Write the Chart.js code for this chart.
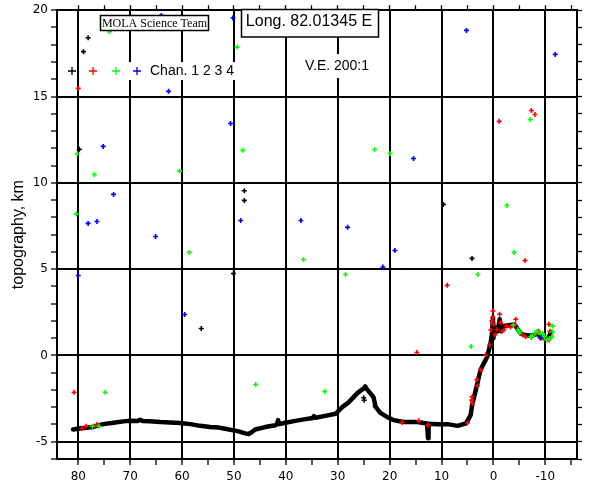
<!DOCTYPE html>
<html>
<head>
<meta charset="utf-8">
<script src="https://cdn.jsdelivr.net/npm/chart.js@4.4.0/dist/chart.umd.min.js"></script>
<style>
  html, body { margin: 0; padding: 0; background: #fff; }
  #wrap { width: 600px; height: 480px; }
</style>
</head>
<body>
<div id="wrap"><canvas id="topo" width="600" height="480"></canvas></div>
<script>
// tick positions (longitude runs right to left)
const lonTicks = [-15, -10, -5, 0, 5, 10, 15, 20, 25, 30, 35, 40, 45, 50, 55, 60, 65, 70, 75, 80];
const topoTicks = [-6, -5, -4, -3, -2, -1, 0, 1, 2, 3, 4, 5, 6, 7, 8, 9, 10, 11, 12, 13, 14, 15, 16, 17, 18, 19, 20];

// main ground track profile, channel 1
const profileLon = [81.0, 79.5, 77.1, 75.2, 73.2, 71.3, 70.0, 68.6, 68.1, 67.6, 66.2, 64.2, 62.3, 60.4, 58.4, 56.5,
  54.6, 53.0, 51.7, 49.1, 48.0, 47.2, 46.6, 45.9, 44.0, 42.0, 41.7, 41.5, 41.3, 40.1, 38.2, 36.2, 34.8, 34.6, 34.3,
  32.4, 30.4, 29.2, 27.9, 26.9, 26.3, 25.0, 24.7, 24.4, 23.7, 23.1, 22.7, 21.8, 20.5, 19.2, 17.3, 14.7, 12.8, 12.6,
  12.5, 10.8, 8.9, 6.9, 5.3, 4.4, 4.05, 3.4, 2.8, 2.5, 1.85, 1.2, 0.56, 0.3, 0.1, 0.0, -0.3, -0.8, -1.2, -1.5, -2.0,
  -3.0, -4.0, -4.6, -5.3, -6.6, -7.5, -8.5, -9.5, -10.5, -11.1];
const profileTopo = [-4.29, -4.22, -4.14, -3.98, -3.90, -3.82, -3.79, -3.80, -3.72, -3.80, -3.82, -3.86, -3.88, -3.92,
  -3.98, -4.08, -4.15, -4.18, -4.25, -4.40, -4.50, -4.56, -4.45, -4.29, -4.15, -4.04, -3.98, -3.75, -3.98, -3.90,
  -3.79, -3.69, -3.62, -3.52, -3.61, -3.50, -3.38, -3.01, -2.72, -2.40, -2.20, -1.91, -1.80, -1.95, -2.20, -2.43,
  -2.98, -3.33, -3.56, -3.75, -3.86, -3.86, -3.94, -4.80, -3.96, -3.98, -3.98, -4.08, -3.94, -3.46, -2.78, -2.01,
  -1.24, -0.85, -0.46, -0.08, 0.70, 1.20, 2.20, 1.00, 1.60, 1.40, 2.10, 1.40, 1.70, 1.75, 1.80, 1.55, 1.25, 1.15,
  1.15, 1.25, 1.05, 0.95, 1.35];

// scattered returns per channel
const chan1Lon = [78.1, 79.0, 79.8, 48.0, 48.0, 50.1, 56.3, 9.65, 4.13, 25.0, 24.9, 22.8];
const chan1Topo = [18.4, 17.6, 11.94, 9.54, 8.98, 4.75, 1.56, 8.75, 5.62, -2.45, -2.6, -2.95];

const chan2Lon = [80.0, -7.3, -8.0, -1.1, -6.1, 8.9, 14.75, 80.8, 79.3, 78.5, 76.8, 76.4, 17.6, 14.4, 12.6, 5.0, 4.2,
  4.05, 4.1, 3.1, 3.2, 2.5, 1.5, 0.7, 0.5, 0.3, 0.1, 0.1, 0.0, -0.3, -0.7, -1.2, -1.4, -1.6, -2.0, -2.5, -3.3, -4.1,
  -4.3, -5.7, -6.2, -7.3, -8.2, -8.7, -9.2, -9.8, -10.7, -10.7, -10.9];
const chan2Topo = [15.47, 14.19, 13.96, 13.56, 5.50, 4.06, 0.17, -2.14, -4.23, -4.10, -4.10, -4.0, -3.88, -3.79, -4.04,
  -3.9, -2.59, -2.78, -2.4, -1.76, -1.4, -0.85, 0.02, 0.6, 1.47, 2.0, 2.57, 2.2, 1.8, 1.2, 1.5, 2.39, 1.9, 1.4, 1.47,
  1.7, 1.64, 1.76, 2.1, 1.18, 1.1, 1.06, 1.27, 1.4, 1.0, 0.95, 1.8, 0.89, 1.4];

const chan3Lon = [74.0, 49.4, 80.2, 48.3, 60.5, 76.9, 80.4, 58.6, 36.6, -2.6, 22.9, 19.9, -4.0, 28.5, 3.0, 4.3, 32.5,
  74.8, 45.8, -7.1, 77.3, 76.0, -3.8, -4.7, -4.9, -5.1, -7.2, -7.5, -8.0, -8.4, -9.0, -9.5, -9.8, -10.3, -10.8, -11.4,
  -11.3, -11.4];
const chan3Topo = [18.75, 17.86, 11.68, 11.88, 10.68, 10.48, 8.2, 5.97, 5.56, 8.69, 11.93, 11.70, 5.97, 4.69, 4.69, 0.52,
  -2.09, -2.14, -1.68, 13.67, -4.1, -4.1, 1.76, 1.5, 1.4, 1.3, 1.1, 1.12, 1.3, 1.4, 1.25, 1.27, 1.1, 0.9, 0.98, 1.37,
  1.1, 1.7];

const chan4Lon = [64.0, 50.2, 62.6, 50.66, 75.2, 73.2, 78.1, 76.4, 48.7, 37.1, 65.1, 80.0, 59.5, 5.2, -11.9, 15.4, 28.1,
  19.0, 21.3, -9.0];
const chan4Topo = [19.7, 19.55, 15.3, 13.44, 12.11, 9.33, 7.65, 7.76, 7.82, 7.82, 6.89, 4.63, 2.37, 18.83, 17.44, 11.41,
  7.42, 6.08, 5.12, 1.02];

const chanColors = ['#000000', '#ff0000', '#00ff00', '#0000ff'];

const pts = (xs, ys) => xs.map((x, i) => ({ x: x, y: ys[i] }));

const crossSet = (label, xs, ys, color, order) => ({
    label: label,
    data: pts(xs, ys),
    showLine: false,
    pointStyle: 'cross',
    pointRadius: 2.5,
    pointBorderWidth: 1.6,
    borderColor: color,
    backgroundColor: color,
    order: order
});

// labels, boxes and legend drawn over the plot
const overlays = {
    id: 'overlays',
    afterDraw(chart) {
        const c = chart.ctx;
        c.save();
        c.textAlign = 'center';
        c.textBaseline = 'middle';

        c.fillStyle = '#fff';
        c.fillRect(100, 15, 109, 15);
        c.strokeStyle = '#000';
        c.lineWidth = 1.5;
        c.strokeRect(100.5, 15.5, 108, 15);
        c.fillStyle = '#000';
        c.font = '12px "Liberation Serif"';
        c.fillText('MOLA Science Team', 154.5, 23.5);

        c.fillStyle = '#fff';
        c.fillRect(241, 9, 138, 28);
        c.strokeRect(241.5, 9.5, 137, 27.5);
        c.fillStyle = '#000';
        c.font = '16px "Liberation Sans"';
        c.fillText('Long. 82.01345 E', 309, 22);

        c.fillStyle = '#fff';
        c.fillRect(303, 54, 68, 24);
        c.fillStyle = '#000';
        c.font = '14px "Liberation Sans"';
        c.fillText('V.E. 200:1', 337, 66);

        // channel legend
        c.fillStyle = '#fff';
        c.fillRect(83, 62, 162, 18);
        const lx = [72, 93, 116, 137];
        c.lineWidth = 1.3;
        lx.forEach((x, i) => {
            c.strokeStyle = chanColors[i];
            c.beginPath();
            c.moveTo(x - 4, 71); c.lineTo(x + 4, 71);
            c.moveTo(x, 67); c.lineTo(x, 75);
            c.stroke();
        });
        c.fillStyle = '#000';
        c.textAlign = 'left';
        c.fillText('Chan. 1 2 3 4', 150, 71);
        c.restore();
    }
};

const tickFont = { family: 'DejaVu Sans', size: 12 };

new Chart(document.getElementById('topo'), {
    type: 'scatter',
    data: {
        datasets: [
            {
                label: 'profile',
                data: pts(profileLon, profileTopo),
                showLine: true,
                borderColor: '#000',
                borderWidth: 4.5,
                borderJoinStyle: 'round',
                borderCapStyle: 'round',
                pointRadius: 0,
                tension: 0,
                order: 5
            },
            crossSet('Chan. 1', chan1Lon, chan1Topo, chanColors[0], 4),
            crossSet('Chan. 2', chan2Lon, chan2Topo, chanColors[1], 3),
            crossSet('Chan. 3', chan3Lon, chan3Topo, chanColors[2], 2),
            crossSet('Chan. 4', chan4Lon, chan4Topo, chanColors[3], 1)
        ]
    },
    options: {
        responsive: false,
        animation: false,
        devicePixelRatio: 1,
        layout: { padding: 0 },
        plugins: { legend: { display: false }, tooltip: { enabled: false } },
        scales: {
            x: {
                type: 'linear', position: 'bottom', reverse: true, min: -16.1, max: 84.1,
                afterBuildTicks: s => { s.ticks = lonTicks.map(v => ({ value: v })); },
                afterFit: s => { s.height = 21; },
                grid: {
                    color: c => (c.tick && c.tick.value % 10 === 0) ? '#000' : 'rgba(0,0,0,0)',
                    lineWidth: 2, tickColor: '#000', tickLength: 6, tickWidth: 1.3
                },
                border: { display: true, color: '#000', width: 2 },
                ticks: {
                    callback: v => v % 10 === 0 ? String(v) : '',
                    font: tickFont, color: '#000', padding: 5, maxRotation: 0, autoSkip: false
                }
            },
            xTop: {
                type: 'linear', position: 'top', reverse: true, min: -16.1, max: 84.1,
                afterBuildTicks: s => { s.ticks = lonTicks.map(v => ({ value: v })); },
                afterFit: s => { s.height = 9; },
                grid: { drawOnChartArea: false, tickColor: '#000', tickLength: 5, tickWidth: 1.3 },
                border: { display: true, color: '#000', width: 2 },
                ticks: { display: false }
            },
            y: {
                type: 'linear', position: 'left', min: -6, max: 20,
                afterBuildTicks: s => { s.ticks = topoTicks.map(v => ({ value: v })); },
                afterFit: s => { s.width = 57; },
                grid: {
                    color: c => (c.tick && c.tick.value % 5 === 0) ? '#000' : 'rgba(0,0,0,0)',
                    lineWidth: 2, tickColor: '#000', tickLength: 6, tickWidth: 1.3
                },
                border: { display: true, color: '#000', width: 2 },
                ticks: {
                    callback: v => v % 5 === 0 ? String(v) : '',
                    font: tickFont, color: '#000', padding: 3, autoSkip: false
                },
                title: {
                    display: true, text: 'topography, km', color: '#000',
                    font: { family: 'Liberation Sans', size: 16 }, padding: { top: 9, bottom: 0 }
                }
            },
            yRight: {
                type: 'linear', position: 'right', min: -6, max: 20,
                afterBuildTicks: s => { s.ticks = topoTicks.map(v => ({ value: v })); },
                afterFit: s => { s.width = 23; },
                grid: { drawOnChartArea: false, tickColor: '#000', tickLength: 5, tickWidth: 1.3 },
                border: { display: true, color: '#000', width: 2 },
                ticks: { display: false }
            }
        }
    },
    plugins: [overlays]
});
</script>
</body>
</html>
